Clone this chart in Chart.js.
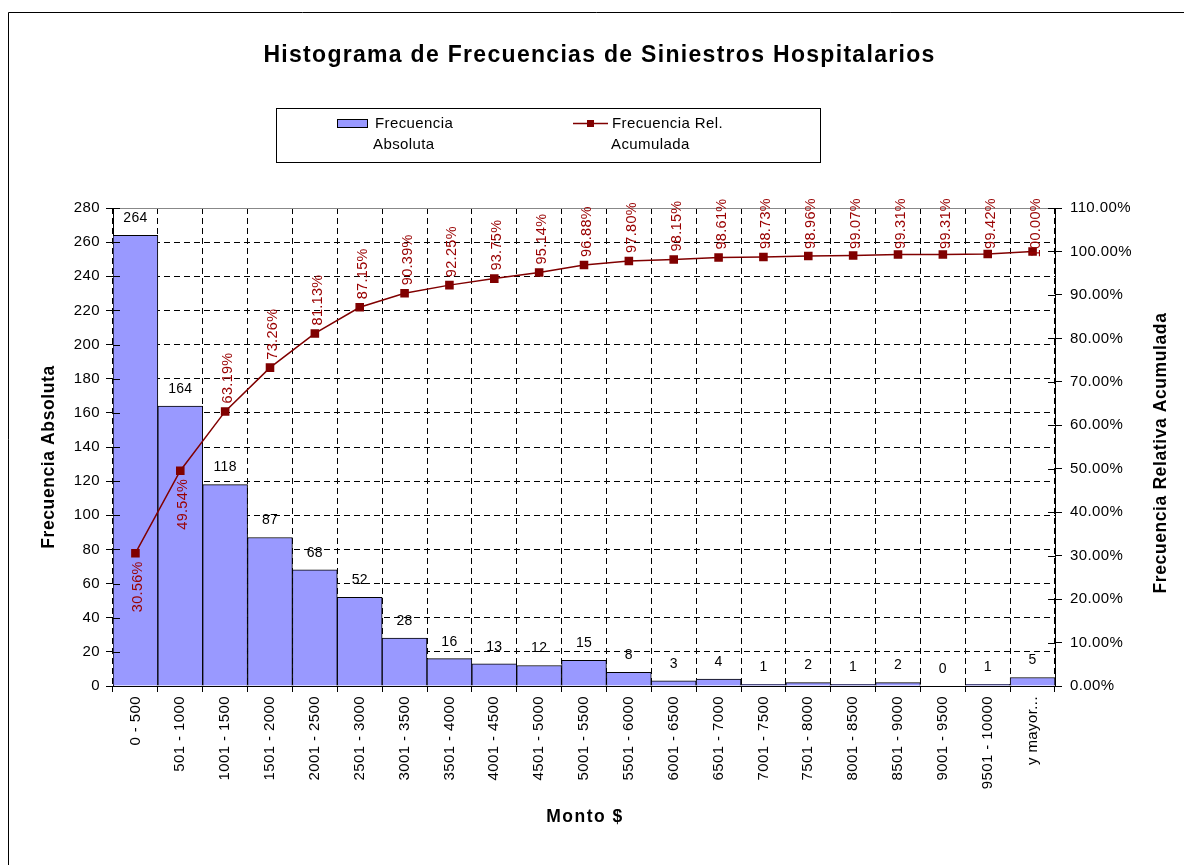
<!DOCTYPE html>
<html><head><meta charset="utf-8">
<script src="https://cdn.jsdelivr.net/npm/chart.js@4.4.0/dist/chart.umd.min.js"></script>
<style>html,body{margin:0;padding:0;background:#fff;overflow:hidden}</style></head>
<body><canvas id="c" width="1184" height="865" style="display:block;width:1184px;height:865px"></canvas>
<script>
const categories = ["0 - 500","501 - 1000","1001 - 1500","1501 - 2000","2001 - 2500","2501 - 3000","3001 - 3500","3501 - 4000","4001 - 4500","4501 - 5000","5001 - 5500","5501 - 6000","6001 - 6500","6501 - 7000","7001 - 7500","7501 - 8000","8001 - 8500","8501 - 9000","9001 - 9500","9501 - 10000","y mayor..."];
const frecuenciaAbsoluta = [264,164,118,87,68,52,28,16,13,12,15,8,3,4,1,2,1,2,0,1,5];
const frecuenciaRelAcumulada = [30.56,49.54,63.19,73.26,81.13,87.15,90.39,92.25,93.75,95.14,96.88,97.80,98.15,98.61,98.73,98.96,99.07,99.31,99.31,99.42,100.00];
const titleText = "Histograma de Frecuencias de Siniestros Hospitalarios";
const leftAxisTitle = "Frecuencia Absoluta";
const rightAxisTitle = "Frecuencia Relativa Acumulada";
const xAxisTitle = "Monto $";
const legendBar = ["Frecuencia","Absoluta"];
const legendLine = ["Frecuencia Rel.","Acumulada"];

const FONT = "'Liberation Sans', Arial, sans-serif";
const BAR_FILL = "#9999FF", LINE_COL = "#800000", LABEL_RED = "#990000";

const spacing = {
  id: 'spacing',
  beforeUpdate(chart){ chart.ctx.letterSpacing = '0.4px'; },
  beforeDraw(chart){ chart.ctx.letterSpacing = '0.4px'; }
};

const decor = {
  id: 'decor',
  beforeDraw(chart){
    const ctx = chart.ctx;
    ctx.save();
    ctx.fillStyle = '#fff'; ctx.fillRect(0,0,chart.width,chart.height);
    ctx.strokeStyle = '#000'; ctx.lineWidth = 1;
    ctx.beginPath(); ctx.moveTo(8.5, 900); ctx.lineTo(8.5, 12.5); ctx.lineTo(1200, 12.5); ctx.stroke();
    ctx.fillStyle = '#000';
    ctx.letterSpacing = '1.3px';
    ctx.font = "bold 23px " + FONT; ctx.textAlign = 'center'; ctx.textBaseline = 'middle';
    ctx.fillText(titleText, 599.5, 56);
    ctx.letterSpacing = '0.4px';
    ctx.strokeRect(276.5, 108.5, 544, 54);
    ctx.fillStyle = BAR_FILL; ctx.fillRect(337.5, 119.5, 30, 8);
    ctx.strokeRect(337.5, 119.5, 30, 8);
    ctx.strokeStyle = LINE_COL; ctx.lineWidth = 1.5;
    ctx.beginPath(); ctx.moveTo(573, 123.5); ctx.lineTo(608, 123.5); ctx.stroke();
    ctx.fillStyle = LINE_COL; ctx.fillRect(587, 120, 7, 7);
    ctx.fillStyle = '#000'; ctx.font = "15px " + FONT; ctx.textAlign = 'left'; ctx.textBaseline = 'alphabetic';
    ctx.fillText(legendBar[0], 375, 128); ctx.fillText(legendBar[1], 373, 149);
    ctx.fillText(legendLine[0], 612, 128); ctx.fillText(legendLine[1], 611, 149);
    ctx.letterSpacing = '0.6px';
    ctx.font = "bold 17.5px " + FONT; ctx.textAlign = 'center'; ctx.textBaseline = 'middle';
    ctx.save(); ctx.letterSpacing = '1.5px'; ctx.fillText(xAxisTitle, 585, 817); ctx.restore();
    ctx.save(); ctx.translate(49, 457); ctx.rotate(-Math.PI/2); ctx.fillText(leftAxisTitle, 0, 0); ctx.restore();
    ctx.save(); ctx.translate(1161, 453); ctx.rotate(-Math.PI/2); ctx.fillText(rightAxisTitle, 0, 0); ctx.restore();
    ctx.restore();
  },
  beforeDatasetsDraw(chart){
    const ctx = chart.ctx, ca = chart.chartArea;
    ctx.save();
    ctx.strokeStyle = '#888'; ctx.lineWidth = 1;
    ctx.beginPath(); ctx.moveTo(ca.left, ca.top + 0.5); ctx.lineTo(ca.right, ca.top + 0.5); ctx.stroke();
    ctx.restore();
  },
  afterDatasetsDraw(chart){
    const ctx = chart.ctx;
    const ca = chart.chartArea;
    ctx.save();
    ctx.strokeStyle = '#000'; ctx.lineWidth = 1;
    const yl = chart.scales.y, yr = chart.scales.y1;
    yl.ticks.forEach(t => { const y = Math.round(yl.getPixelForValue(t.value)) + 0.5; ctx.beginPath(); ctx.moveTo(ca.left, y); ctx.lineTo(ca.left + 7, y); ctx.stroke(); });
    yr.ticks.forEach(t => { const y = Math.round(yr.getPixelForValue(t.value)) + 0.5; ctx.beginPath(); ctx.moveTo(ca.right - 7, y); ctx.lineTo(ca.right, y); ctx.stroke(); });
    const bm = chart.getDatasetMeta(0);
    ctx.letterSpacing = '0.3px';
    ctx.fillStyle = '#000'; ctx.font = "14px " + FONT; ctx.textAlign = 'center'; ctx.textBaseline = 'middle';
    bm.data.forEach((el, i) => { ctx.fillText(String(frecuenciaAbsoluta[i]), el.x, el.y - 17); });
    const lm = chart.getDatasetMeta(1);
    ctx.fillStyle = LABEL_RED; ctx.font = "14.5px " + FONT; ctx.textBaseline = 'middle';
    lm.data.forEach((el, i) => {
      const txt = frecuenciaRelAcumulada[i].toFixed(2) + '%';
      ctx.save(); ctx.translate(el.x + 3, el.y); ctx.rotate(-Math.PI/2);
      if (i < 2) { ctx.textAlign = 'right'; ctx.fillText(txt, -8, 0); }
      else {
        const w = ctx.measureText(txt).width;
        let start = 8;
        const topY = el.y - start - w;
        if (topY < 198) start -= (198 - topY);
        ctx.textAlign = 'left'; ctx.fillText(txt, start, 0);
      }
      ctx.restore();
    });
    ctx.restore();
  }
};

new Chart(document.getElementById('c'), {
  data: {
    labels: categories,
    datasets: [
      { type: 'bar', label: 'Frecuencia Absoluta', data: frecuenciaAbsoluta, yAxisID: 'y',
        backgroundColor: BAR_FILL, borderColor: '#000', borderWidth: 1,
        barPercentage: 1, categoryPercentage: 1, order: 2 },
      { type: 'line', label: 'Frecuencia Rel. Acumulada', data: frecuenciaRelAcumulada, yAxisID: 'y1',
        borderColor: LINE_COL, backgroundColor: LINE_COL, borderWidth: 1.5, tension: 0,
        pointStyle: 'rect', pointRadius: 5, pointHoverRadius: 5, order: 1 }
    ]
  },
  options: {
    responsive: false, animation: false, devicePixelRatio: 1,
    layout: { padding: { top: 208, left: 0, right: 0, bottom: 0 } },
    plugins: { legend: { display: false }, title: { display: false }, tooltip: { enabled: false } },
    scales: {
      x: {
        offset: true,
        grid: { offset: true, color: '#000', lineWidth: 1, tickLength: 6, tickColor: '#000', drawOnChartArea: true },
        border: { display: true, color: '#000', width: 1, dash: [6, 4] },
        ticks: { autoSkip: false, maxRotation: 90, minRotation: 90, padding: 4, color: '#000', font: { family: FONT, size: 15 } },
        afterFit(s){ s.height = 865 - 686; }
      },
      y: {
        position: 'left', min: 0, max: 280,
        grid: { color: '#000', lineWidth: 1, tickLength: 7, tickColor: '#000' },
        border: { display: true, color: '#000', width: 1, dash: [6, 4] },
        ticks: { stepSize: 20, padding: 6, color: '#000', font: { family: FONT, size: 15 } },
        afterFit(s){ s.width = 113; }
      },
      y1: {
        position: 'right', min: 0, max: 110,
        grid: { drawOnChartArea: false, tickLength: 7, tickColor: '#000', color: '#000' },
        border: { display: true, color: '#000', width: 1 },
        ticks: { stepSize: 10, padding: 8, color: '#000', font: { family: FONT, size: 15 },
          callback: v => Number(v).toFixed(2) + '%' },
        afterFit(s){ s.width = 1184 - 1055; }
      }
    }
  },
  plugins: [spacing, decor]
});
</script>
</body></html>
